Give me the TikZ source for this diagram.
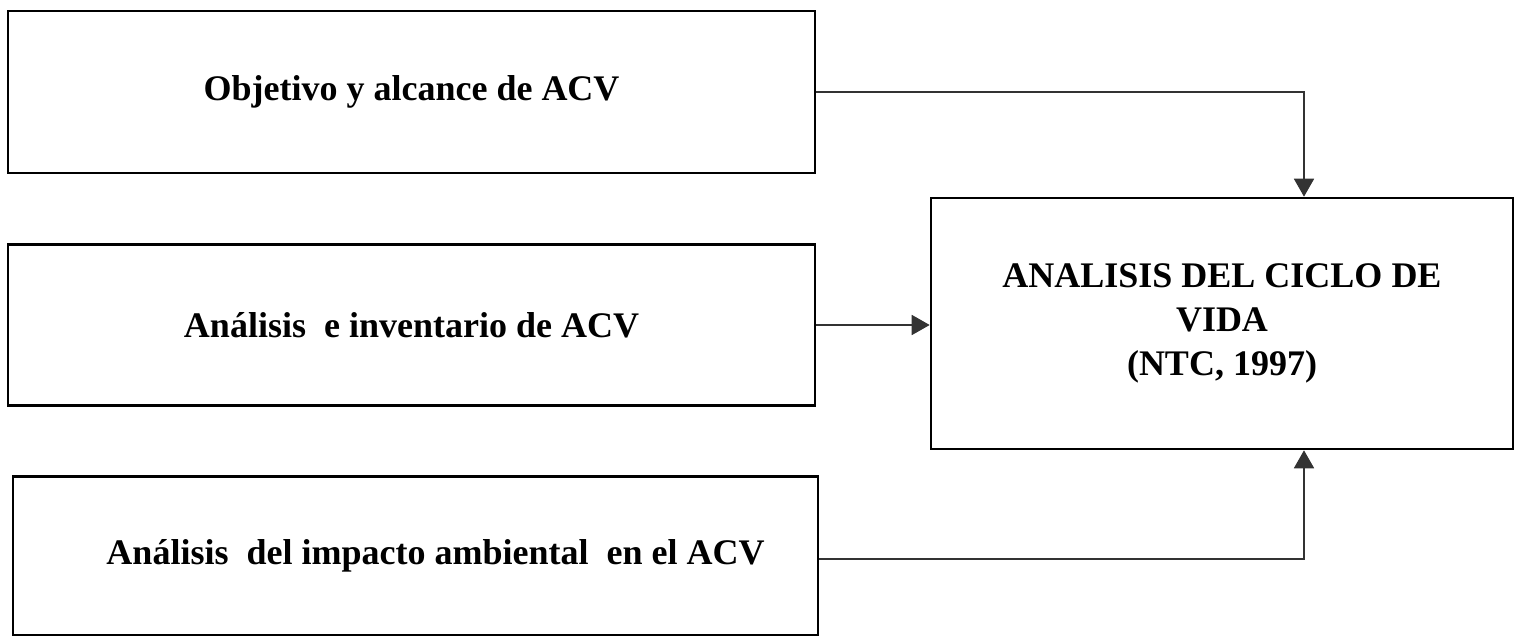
\documentclass[tikz,border=0pt]{standalone}
\usepackage{fontspec}
\setmainfont{Liberation Serif}
\usetikzlibrary{arrows.meta}
\begin{document}
\begin{tikzpicture}[x=0.5pt,y=-0.5pt]
	\tikzstyle{stage box}=[draw,line width=1.3pt,inner sep=0pt,align=center,font=\fontsize{18pt}{22pt}\selectfont\bfseries]
	\tikzstyle{link}=[line width=0.9pt,draw=black!80,-{Triangle[length=9pt,width=10pt]}]
	\useasboundingbox (0,0) rectangle (1516,636);
	\node(obj)[stage box,minimum width=403.5pt,minimum height=81pt] at (411.5,92){Objetivo y alcance de ACV};
	\node(inv)[stage box,minimum width=403.5pt,minimum height=80.5pt] at (411.5,325){Análisis~ e inventario de ACV};
	\node(imp)[stage box,minimum width=402.5pt,minimum height=79.5pt] at (415.5,556){\hspace*{20pt}Análisis~ del impacto ambiental~ en el ACV};
	\node(acv)[stage box,minimum width=291pt,minimum height=125.5pt] at (1222,323.5){ANALISIS DEL CICLO DE\\VIDA\\(NTC, 1997)};
	\draw[link](obj.east)-|([xshift=41pt]acv.north);
	\draw[link](inv.east)--(acv.west|-inv.east);
	\draw[link]([yshift=-1.5pt]imp.east)-|([xshift=41pt]acv.south);
\end{tikzpicture}
\end{document}
